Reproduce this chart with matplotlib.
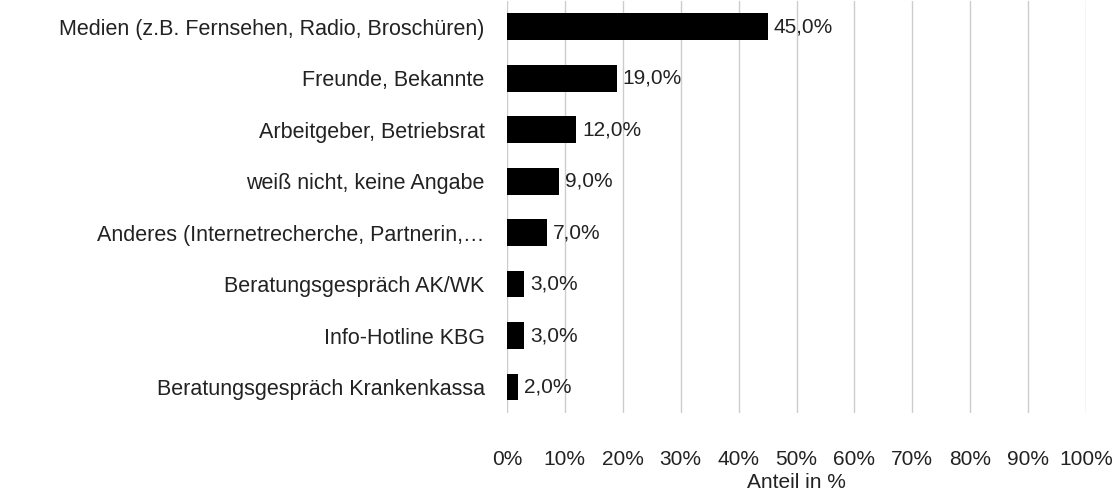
import matplotlib
matplotlib.use("Agg")
import matplotlib.pyplot as plt
from matplotlib.ticker import FuncFormatter

# --- Daten ---
kategorien = [
    "Medien (z.B. Fernsehen, Radio, Broschüren)",
    "Freunde, Bekannte",
    "Arbeitgeber, Betriebsrat",
    "weiß nicht, keine Angabe",
    "Anderes (Internetrecherche, Partnerin,…",
    "Beratungsgespräch AK/WK",
    "Info-Hotline KBG",
    "Beratungsgespräch Krankenkassa",
]
anteile = [45.0, 19.0, 12.0, 9.0, 7.0, 3.0, 3.0, 2.0]
x_ticks = [0, 10, 20, 30, 40, 50, 60, 70, 80, 90, 100]

plt.rcParams['font.family'] = ['Liberation Sans', 'DejaVu Sans']
fs = 15
txt_col = "#222222"

fig = plt.figure(figsize=(11.14, 4.92), dpi=100)
ax = fig.add_axes([0.455, 0.161, 0.52, 0.837])

pos = list(range(len(kategorien)))
ax.barh(pos, anteile, height=0.52, color="black", zorder=3)
ax.set_ylim(len(kategorien) - 0.5, -0.5)
ax.set_xlim(0, 100)

# Datenbeschriftungen
for p, v in zip(pos, anteile):
    ax.text(v + 1.0, p, f"{v:.1f}%".replace(".", ","), va="center", ha="left",
            fontsize=fs, color=txt_col)

ax.set_yticks(pos)
ax.set_yticklabels(kategorien, fontsize=15.5, color=txt_col)
ax.set_xticks(x_ticks)
ax.xaxis.set_major_formatter(FuncFormatter(lambda v, _: f"{int(v)}%"))
ax.tick_params(axis="x", labelsize=fs, colors=txt_col, length=0, pad=27)
ax.tick_params(axis="y", length=0, pad=16)
ax.grid(axis="x", color="#cccccc", linewidth=1, zorder=0)
for s in ax.spines.values():
    s.set_visible(False)

ax.set_xlabel("Anteil in %", fontsize=fs, color=txt_col, labelpad=3)

fig.savefig("out.png", dpi=100)
